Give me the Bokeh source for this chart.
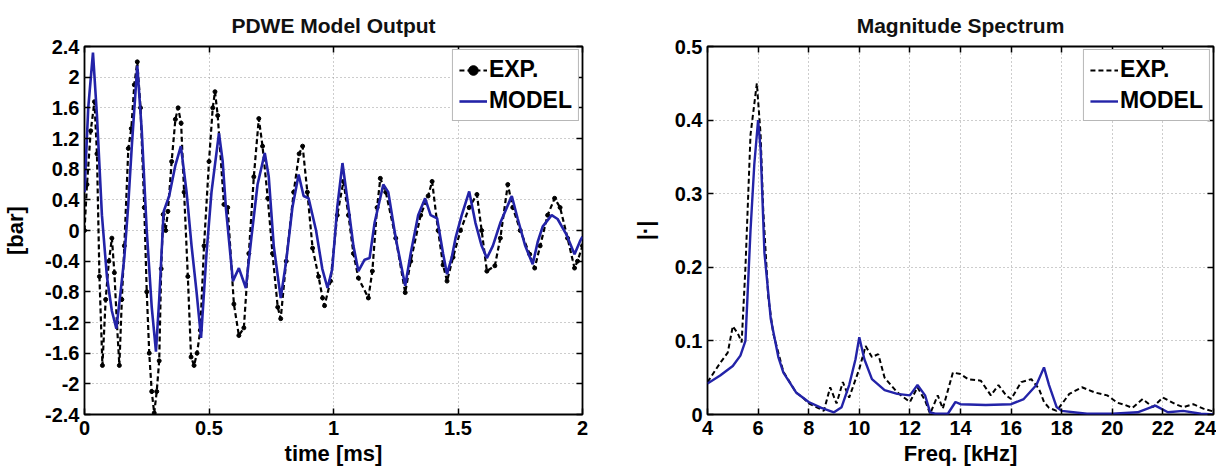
from bokeh.plotting import figure
from bokeh.layouts import row
from bokeh.models import (FixedTicker, LinearAxis, Range1d, Legend, LegendItem,
                          CustomJSTickFormatter)
from bokeh.embed import file_html
from bokeh.resources import INLINE

FONT = "Liberation Sans"
BLUE = "#2323a8"

# ---------------- left panel: time signal ----------------
t_model = [0.0, 0.015, 0.034, 0.05, 0.07, 0.09, 0.11, 0.128, 0.145, 0.16, 0.175, 0.19,
           0.212, 0.23, 0.25, 0.27, 0.287, 0.30, 0.318, 0.34, 0.365, 0.387, 0.41, 0.43,
           0.45, 0.468, 0.49, 0.51, 0.54, 0.555, 0.568, 0.596, 0.62, 0.648, 0.67, 0.695,
           0.724, 0.74, 0.76, 0.788, 0.81, 0.835, 0.86, 0.88, 0.90, 0.93, 0.955, 0.976,
           0.995, 1.015, 1.036, 1.06, 1.08, 1.1, 1.125, 1.145, 1.165, 1.2, 1.22, 1.25,
           1.288, 1.31, 1.34, 1.368, 1.39, 1.416, 1.44, 1.456, 1.475, 1.49, 1.515, 1.545,
           1.57, 1.595, 1.616, 1.64, 1.67, 1.716, 1.74, 1.77, 1.80, 1.82, 1.84, 1.876,
           1.9, 1.935, 1.968, 1.99, 2.0]
v_model = [0.5, 1.6, 2.32, 1.5, 0.2, -0.6, -1.05, -1.28, -0.8, -0.35, 0.3, 1.1,
           2.15, 1.3, 0.0, -1.0, -1.58, -0.9, 0.25, 0.45, 0.85, 1.1, 0.5, -0.2,
           -0.8, -1.4, -0.3, 0.5, 1.27, 0.9, 0.29, -0.66, -0.49, -0.75, -0.1, 0.6,
           1.01, 0.7, -0.2, -0.88, -0.4, 0.3, 0.73, 0.45, 0.42, 0.0, -0.5, -0.75,
           -0.5, 0.3, 0.88, 0.3, -0.2, -0.53, -0.38, -0.36, 0.1, 0.6, 0.5, -0.1,
           -0.72, -0.3, 0.2, 0.42, 0.2, 0.16, -0.3, -0.57, -0.35, -0.1, 0.2, 0.51,
           0.1, -0.2, -0.36, -0.2, 0.1, 0.45, 0.15, -0.2, -0.44, -0.15, 0.05, 0.2,
           0.15, -0.05, -0.31, -0.14, -0.08]

t_exp = [0.0, 0.01, 0.025, 0.04, 0.05, 0.06, 0.072, 0.085, 0.098, 0.11, 0.12, 0.13,
         0.14, 0.15, 0.16, 0.176, 0.188, 0.2, 0.212, 0.225, 0.24, 0.25, 0.26, 0.27,
         0.28, 0.29, 0.3, 0.308, 0.316, 0.326, 0.335, 0.35, 0.365, 0.376, 0.388, 0.4,
         0.415, 0.428, 0.44, 0.452, 0.465, 0.48, 0.5, 0.515, 0.524, 0.535, 0.56, 0.575,
         0.6, 0.62, 0.64, 0.66, 0.68, 0.7, 0.715, 0.736, 0.755, 0.776, 0.788, 0.81,
         0.84, 0.862, 0.876, 0.895, 0.916, 0.94, 0.956, 0.964, 0.988, 1.015, 1.04, 1.06,
         1.08, 1.1, 1.14, 1.156, 1.175, 1.188, 1.21, 1.25, 1.288, 1.31, 1.35, 1.38,
         1.396, 1.42, 1.44, 1.456, 1.48, 1.51, 1.545, 1.576, 1.595, 1.616, 1.648, 1.67,
         1.7, 1.72, 1.75, 1.788, 1.808, 1.83, 1.86, 1.888, 1.91, 1.94, 1.968, 1.98, 2.0]
v_exp = [0.0, 0.6, 1.3, 1.68, 1.0, -0.6, -1.76, -0.9, -0.4, -0.1, -0.55, -1.2,
         -1.76, -0.9, -0.2, 1.07, 1.33, 1.9, 2.2, 1.6, 0.3, -0.8, -1.6, -2.1,
         -2.38, -2.1, -1.7, -0.5, 0.21, 0.0, 0.25, 0.9, 1.45, 1.6, 1.4, 0.5,
         -0.6, -1.65, -1.76, -1.6, -1.3, -0.2, 0.9, 1.6, 1.81, 1.5, 0.34, 0.3,
         -0.96, -1.37, -1.27, -0.3, 0.7, 1.46, 1.1, 0.42, -0.3, -1.0, -1.15, -0.4,
         0.5, 1.0, 1.1, 0.5, -0.23, -0.6, -0.88, -0.98, -0.66, 0.2, 0.64, 0.2,
         -0.3, -0.62, -0.88, -0.53, 0.3, 0.68, 0.5, -0.1, -0.81, -0.4, 0.2, 0.45,
         0.64, 0.0, -0.45, -0.66, -0.35, 0.0, 0.3, 0.47, 0.0, -0.53, -0.46, -0.1,
         0.6, 0.3, 0.0, -0.31, -0.49, -0.2, 0.2, 0.42, 0.3, -0.1, -0.49, -0.4, -0.2]

left_xticks = [0, 0.5, 1, 1.5, 2]
left_xlabels = ["0", "0.5", "1", "1.5", "2"]
left_yticks = [2.4, 2.0, 1.6, 1.2, 0.8, 0.4, 0.0, -0.4, -0.8, -1.2, -1.6, -2.0, -2.4]
left_ylabels = ["2.4", "2", "1.6", "1.2", "0.8", "0.4", "0", "-0.4", "-0.8", "-1.2",
                "-1.6", "-2", "-2.4"]

# ---------------- right panel: spectrum ----------------
f_model = [4.0, 4.5, 5.0, 5.3, 5.5, 5.7, 5.85, 6.0, 6.1, 6.25, 6.5, 6.8, 7.0, 7.5, 8.0,
           8.5, 9.0, 9.3, 9.6, 9.85, 10.0, 10.2, 10.5, 11.0, 11.5, 12.0, 12.3, 12.6,
           12.8, 13.0, 13.5, 13.8, 14.0, 15.0, 16.0, 16.5, 17.0, 17.3, 17.5, 17.8, 18.0,
           19.0, 20.0, 21.0, 21.7, 22.2, 22.8, 23.5, 24.0]
m_model = [0.042, 0.053, 0.066, 0.080, 0.10, 0.25, 0.34, 0.40, 0.36, 0.22, 0.13, 0.078,
           0.057, 0.03, 0.017, 0.009, 0.003, 0.01, 0.04, 0.075, 0.105, 0.075, 0.048,
           0.033, 0.028, 0.026, 0.04, 0.026, 0.003, 0.001, 0.001, 0.017, 0.014, 0.013,
           0.014, 0.021, 0.04, 0.064, 0.04, 0.01, 0.005, 0.001, 0.001, 0.003, 0.012,
           0.003, 0.005, 0.001, 0.0]

f_exp = [4.0, 4.5, 4.8, 5.0, 5.2, 5.35, 5.5, 5.7, 5.95, 6.1, 6.2, 6.4, 6.6, 7.0, 7.5,
         7.8, 8.0, 8.3, 8.6, 8.85, 9.1, 9.35, 9.6, 10.0, 10.25, 10.5, 10.75, 11.0, 11.5,
         12.0, 12.3, 12.6, 12.8, 13.1, 13.3, 13.7, 14.0, 14.3, 14.8, 15.2, 15.5, 15.8,
         16.0, 16.4, 16.8, 17.1, 17.3, 17.5, 17.8, 18.0, 18.3, 18.8, 19.3, 19.8, 20.2,
         20.5, 20.8, 21.2, 21.6, 22.0, 22.5, 22.8, 23.2, 23.6, 24.0]
m_exp = [0.044, 0.07, 0.084, 0.12, 0.11, 0.098, 0.2, 0.38, 0.45, 0.38, 0.28, 0.16, 0.11,
         0.058, 0.03, 0.022, 0.015, 0.01, 0.005, 0.037, 0.015, 0.044, 0.023, 0.062, 0.093,
         0.078, 0.082, 0.05, 0.03, 0.017, 0.037, 0.019, 0.001, 0.026, 0.008, 0.057, 0.055,
         0.048, 0.046, 0.026, 0.04, 0.026, 0.021, 0.044, 0.048, 0.035, 0.017, 0.009,
         0.005, 0.014, 0.028, 0.037, 0.03, 0.026, 0.016, 0.013, 0.009, 0.021, 0.01,
         0.023, 0.014, 0.01, 0.014, 0.008, 0.004]

right_xticks = [4, 6, 8, 10, 12, 14, 16, 18, 20, 22, 24]
right_yticks = [0.0, 0.1, 0.2, 0.3, 0.4, 0.5]
right_ylabels = ["0", "0.1", "0.2", "0.3", "0.4", "0.5"]


def style(p, xt, xl, yt, yl):
    p.title.text_font = FONT
    p.title.text_font_size = "21px"
    p.title.text_font_style = "bold"
    p.title.align = "center"
    p.title.text_color = "#111111"
    p.title.standoff = 20
    p.outline_line_color = "black"
    p.outline_line_width = 1.8
    p.outline_line_alpha = 1.0
    for ax in (p.xaxis[0], p.yaxis[0]):
        ax.major_label_text_font = FONT
        ax.major_label_text_font_size = "20px"
        ax.major_label_text_font_style = "bold"
        ax.major_label_text_color = "black"
        ax.axis_label_text_font = FONT
        ax.axis_label_text_font_size = "22px"
        ax.axis_label_text_font_style = "bold"
        ax.axis_label_text_color = "black"
        ax.major_tick_in = 6
        ax.major_tick_out = 0
        ax.minor_tick_line_color = None
        ax.axis_line_color = None
        ax.major_tick_line_color = "black"
        ax.major_tick_line_width = 1.5
    p.xaxis[0].ticker = FixedTicker(ticks=xt)
    p.xaxis[0].major_label_overrides = {float(a): b for a, b in zip(xt, xl)}
    p.yaxis[0].ticker = FixedTicker(ticks=yt)
    p.yaxis[0].major_label_overrides = {float(a): b for a, b in zip(yt, yl)}
    p.xaxis[0].major_label_standoff = 6
    p.yaxis[0].major_label_standoff = 5
    p.xaxis[0].axis_label_standoff = 3
    p.yaxis[0].axis_label_standoff = 14
    for g in (p.xgrid[0], p.ygrid[0]):
        g.grid_line_color = "#9a9a9a"
        g.grid_line_dash = "1 3"
        g.grid_line_width = 1
    p.xgrid[0].ticker = FixedTicker(ticks=xt)
    p.ygrid[0].ticker = FixedTicker(ticks=yt)
    blank = CustomJSTickFormatter(code="return ''")
    ax_r = LinearAxis(ticker=FixedTicker(ticks=yt), formatter=blank, major_tick_in=6,
                      major_tick_out=0, minor_tick_line_color=None, axis_line_color=None,
                      major_label_standoff=0, major_tick_line_width=1.5,
                      major_label_text_font_size="1px")
    ax_t = LinearAxis(ticker=FixedTicker(ticks=xt), formatter=blank, major_tick_in=6,
                      major_tick_out=0, minor_tick_line_color=None, axis_line_color=None,
                      major_label_standoff=0, major_tick_line_width=1.5,
                      major_label_text_font_size="1px")
    p.add_layout(ax_r, "right")
    p.add_layout(ax_t, "above")
    p.background_fill_color = "white"
    p.border_fill_color = "white"


def add_legend(p, items):
    lg = Legend(items=items, location="top_right")
    lg.label_text_font = FONT
    lg.label_text_font_size = "23px"
    lg.label_text_font_style = "bold"
    lg.label_text_color = "black"
    lg.border_line_color = "#707070"
    lg.border_line_width = 1
    lg.background_fill_color = "white"
    lg.background_fill_alpha = 1.0
    lg.glyph_width = 28
    lg.glyph_height = 24
    lg.label_height = 24
    lg.label_standoff = 2
    lg.spacing = 4
    lg.padding = 6
    lg.margin = 3
    p.add_layout(lg)


# ---- left figure ----
p1 = figure(width=620, height=472, output_backend="svg", toolbar_location=None,
            title="PDWE Model Output", x_range=Range1d(0, 2), y_range=Range1d(-2.4, 2.4),
            x_axis_label="time [ms]", y_axis_label="[bar]",
            min_border_left=83, min_border_right=38, min_border_top=45, min_border_bottom=58)
e1 = p1.line(t_exp, v_exp, line_color="black", line_width=2.2, line_dash="5 3")
e1d = p1.scatter(t_exp, v_exp, size=4, color="black")
m1 = p1.line(t_model, v_model, line_color=BLUE, line_width=2.6)
style(p1, left_xticks, left_xlabels, left_yticks, left_ylabels)
add_legend(p1, [LegendItem(label="EXP.", renderers=[e1, e1d]),
                LegendItem(label="MODEL", renderers=[m1])])

# ---- right figure ----
p2 = figure(width=596, height=472, output_backend="svg", toolbar_location=None,
            title="Magnitude Spectrum", x_range=Range1d(4, 24), y_range=Range1d(0, 0.5),
            x_axis_label="Freq. [kHz]", y_axis_label="|·|",
            min_border_left=87, min_border_right=3, min_border_top=46, min_border_bottom=56)
e2 = p2.line(f_exp, m_exp, line_color="black", line_width=2.0, line_dash="5 3")
m2 = p2.line(f_model, m_model, line_color=BLUE, line_width=2.4)
style(p2, right_xticks, [str(v) for v in right_xticks], right_yticks, right_ylabels)
add_legend(p2, [LegendItem(label="EXP.", renderers=[e2]),
                LegendItem(label="MODEL", renderers=[m2])])

layout = row(p1, p2)
open("out.html", "w").write(file_html(layout, INLINE))
